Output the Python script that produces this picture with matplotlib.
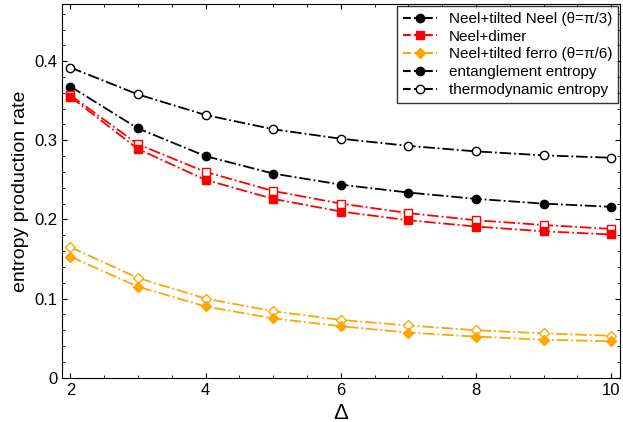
import matplotlib
matplotlib.use("Agg")
import matplotlib.pyplot as plt
from matplotlib.lines import Line2D
plt.rcParams["font.family"] = "Liberation Sans"
plt.rcParams["mathtext.fontset"] = "dejavusans"

delta = [2, 3, 4, 5, 6, 7, 8, 9, 10]
tn_ent = [0.368, 0.315, 0.280, 0.258, 0.244, 0.234, 0.226, 0.220, 0.216]
tn_th = [0.392, 0.358, 0.332, 0.314, 0.302, 0.293, 0.286, 0.281, 0.278]
dim_ent = [0.355, 0.289, 0.250, 0.226, 0.210, 0.199, 0.191, 0.185, 0.181]
dim_th = [0.357, 0.295, 0.260, 0.236, 0.220, 0.208, 0.199, 0.193, 0.188]
fe_ent = [0.153, 0.115, 0.090, 0.075, 0.065, 0.057, 0.052, 0.048, 0.046]
fe_th = [0.165, 0.126, 0.100, 0.084, 0.073, 0.066, 0.060, 0.056, 0.053]

fig = plt.figure(figsize=(6.23, 4.22), dpi=100)
ax = fig.add_axes([0.100, 0.105, 0.895, 0.885])
red = "#ff0000"; org = "#ffa500"
kw = dict(ls="-.", lw=1.3, ms=6)
ax.plot(delta, tn_th, color="k", marker="o", mfc="white", **kw)
ax.plot(delta, tn_ent, color="k", marker="o", **kw)
ax.plot(delta, dim_th, color=red, marker="s", mfc="white", **kw)
ax.plot(delta, dim_ent, color=red, marker="s", **kw)
ax.plot(delta, fe_th, color=org, marker="D", mfc="white", ms=5, ls="-.", lw=1.3)
ax.plot(delta, fe_ent, color=org, marker="D", ms=5, ls="-.", lw=1.3)

ax.set_xlim(1.88, 10.13)
ax.set_ylim(0, 0.472)
ax.set_xticks([2, 4, 6, 8, 10])
ax.set_yticks([0, 0.1, 0.2, 0.3, 0.4])
ax.set_yticklabels(["0", "0.1", "0.2", "0.3", "0.4"])
ax.minorticks_on()
ax.tick_params(which="both", direction="in", top=True, right=True, labelsize=12)
ax.set_xlabel("Δ", fontsize=16)
ax.set_ylabel("entropy production rate", fontsize=14)

h = [Line2D([], [], color="k", marker="o", ls="--", ms=6),
     Line2D([], [], color=red, marker="s", ls="--", ms=6),
     Line2D([], [], color=org, marker="D", ls="--", ms=5),
     Line2D([], [], color="k", marker="o", ls="--", ms=6),
     Line2D([], [], color="k", marker="o", mfc="white", ls="--", ms=6)]
labels = ["Neel+tilted Neel (θ=π/3)", "Neel+dimer", "Neel+tilted ferro (θ=π/6)",
          "entanglement entropy", "thermodynamic entropy"]
leg = ax.legend(h, labels, loc="upper right", fontsize=11, frameon=True, fancybox=False,
                edgecolor="k", borderaxespad=0.1, handlelength=2.2, labelspacing=0.25)
leg.get_frame().set_linewidth(1)
fig.savefig("out.png", dpi=100)
